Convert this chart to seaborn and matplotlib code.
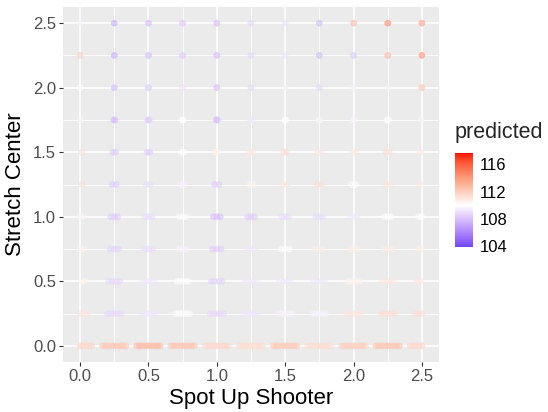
import numpy as np
import pandas as pd
import matplotlib
matplotlib.use("Agg")
import matplotlib.pyplot as plt
import seaborn as sns
from matplotlib.colors import ListedColormap, Normalize
from matplotlib.cm import ScalarMappable

# ---------------- data ----------------
x_levels = [0.0, 0.25, 0.5, 0.75, 1.0, 1.25, 1.5, 1.75, 2.0, 2.25, 2.5]
y_levels = [0.0, 0.25, 0.5, 0.75, 1.0, 1.25, 1.5, 1.75, 2.0, 2.25, 2.5]

# predicted value per cell: rows = y_levels (bottom -> top), cols = x_levels
predicted = [
    [111.6, 112.3, 112.8, 112.4, 111.6, 111.4, 112.2, 111.4, 112.0, 112.4, 111.6],
    [111.0, 108.7, 109.2, 110.0, 108.7, 109.2, 109.6, 109.6, 111.0, 111.3, 111.3],
    [110.5, 108.7, 109.2, 110.0, 108.5, 109.2, 109.2, 109.2, 110.5, 111.0, 111.0],
    [110.5, 108.5, 108.8, 109.6, 108.2, 109.2, 110.0, 110.8, 110.8, 110.8, 110.8],
    [109.6, 108.2, 108.8, 110.0, 107.8, 108.2, 108.8, 108.8, 109.2, 110.0, 110.0],
    [111.3, 108.3, 108.8, 109.6, 108.3, 110.5, 111.0, 111.3, 110.0, 111.0, 111.0],
    [111.3, 108.3, 108.3, 110.0, 110.5, 111.0, 111.3, 111.0, 111.0, 111.3, 111.0],
    [110.5, 107.8, 108.3, 110.0, 107.8, 109.2, 110.0, 109.6, 109.6, 110.0, 109.6],
    [110.0, 107.5, 108.0, 109.0, 107.5, 108.5, 109.5, 108.5, 109.5, 109.5, 112.5],
    [112.0, 107.0, 107.5, 108.0, 107.5, 108.5, 109.0, 107.5, 108.0, 113.0, 114.5],
    [109.5, 107.0, 107.5, 108.0, 107.5, 108.5, 109.0, 107.5, 113.0, 115.0, 114.0],
]

# horizontal spread of the observations within each row (Spot Up Shooter offsets)
row_offsets = [
    [-0.085, -0.065, -0.045, -0.02, 0.0, 0.02, 0.045, 0.065, 0.085],
    [-0.05, -0.025, 0.0, 0.025, 0.05],
    [-0.04, -0.015, 0.015, 0.04],
    [-0.03, 0.0, 0.03],
    [-0.025, 0.0, 0.025],
    [-0.015, 0.015],
    [-0.01, 0.01],
    [-0.005, 0.005],
    [0.0],
    [0.0],
    [0.0],
]

legend_ticks = [104, 108, 112, 116]
value_min, value_max, value_mid = 103.8, 117.7, 110.0

records = []
for i, yv in enumerate(y_levels):
    for j, xv in enumerate(x_levels):
        for off in row_offsets[i]:
            xx = xv + off
            if xx < 0.0 or xx > 2.5:
                continue
            records.append((xx, yv, predicted[i][j]))
df = pd.DataFrame(records, columns=["Spot Up Shooter", "Stretch Center", "predicted"])

# ---------------- colour scale (ggplot gradient2, Lab interpolation) ----------------
M = np.array([[0.4124, 0.3576, 0.1805], [0.2126, 0.7152, 0.0722], [0.0193, 0.1192, 0.9505]])
WP = np.array([0.95047, 1.0, 1.08883])


def to_lab(rgb):
    c = np.asarray(rgb, float)
    lin = np.where(c <= 0.04045, c / 12.92, ((c + 0.055) / 1.055) ** 2.4)
    xyz = (M @ lin) / WP
    f = np.where(xyz > 0.008856, np.cbrt(xyz), 7.787 * xyz + 16 / 116)
    return np.array([116 * f[1] - 16, 500 * (f[0] - f[1]), 200 * (f[1] - f[2])])


def from_lab(lab):
    L, a, b = lab
    fy = (L + 16) / 116
    f = np.array([fy + a / 500, fy, fy - b / 200])
    xyz = np.where(f ** 3 > 0.008856, f ** 3, (f - 16 / 116) / 7.787) * WP
    lin = np.clip(np.linalg.inv(M) @ xyz, 0, 1)
    c = np.where(lin <= 0.0031308, 12.92 * lin, 1.055 * lin ** (1 / 2.4) - 0.055)
    return np.clip(c, 0, 1)


lab_low, lab_mid, lab_high = to_lab([0, 0, 1]), to_lab([1, 1, 1]), to_lab([1, 0, 0])
span = max(value_max - value_mid, value_mid - value_min)
cols = []
for v in np.linspace(value_min, value_max, 256):
    t = (v - value_mid) / span
    if t < 0:
        lab = lab_mid + (lab_low - lab_mid) * (-t)
    else:
        lab = lab_mid + (lab_high - lab_mid) * t
    cols.append(from_lab(lab))
cmap = ListedColormap(cols)
norm = Normalize(value_min, value_max)

# ---------------- plot ----------------
sns.set_theme(style="darkgrid")
plt.rcParams["font.family"] = ["Liberation Sans", "DejaVu Sans"]

fig = plt.figure(figsize=(5.48, 4.12), dpi=100)
ax = fig.add_axes([63 / 548, 1 - 362 / 412, (439 - 63) / 548, (362 - 7) / 412])
ax.set_facecolor("#EBEBEB")

sns.scatterplot(data=df, x="Spot Up Shooter", y="Stretch Center", hue="predicted",
                palette=cmap, hue_norm=norm, legend=False, s=24, alpha=0.55,
                linewidth=0, ax=ax, zorder=3)

ax.set_xlim(-0.125, 2.625)
ax.set_ylim(-0.125, 2.625)
major = [0.0, 0.5, 1.0, 1.5, 2.0, 2.5]
minor = [0.25, 0.75, 1.25, 1.75, 2.25]
ax.set_xticks(major)
ax.set_yticks(major)
ax.set_xticks(minor, minor=True)
ax.set_yticks(minor, minor=True)
ax.set_xticklabels([f"{v:.1f}" for v in major])
ax.set_yticklabels([f"{v:.1f}" for v in major])
ax.grid(which="major", color="white", linewidth=1.1, zorder=1)
ax.grid(which="minor", color="white", linewidth=0.55, zorder=1)
ax.set_axisbelow(True)
for sp in ax.spines.values():
    sp.set_visible(False)
ax.tick_params(which="major", length=3, width=0.8, color="#333333",
               labelcolor="#4D4D4D", labelsize=12, pad=2,
               bottom=True, left=True)
ax.tick_params(which="minor", length=0)
ax.set_xlabel("Spot Up Shooter", fontsize=16, color="black", labelpad=3)
ax.set_ylabel("Stretch Center", fontsize=16, color="black", labelpad=5)

# colourbar legend
cax = fig.add_axes([455 / 548, 1 - 247 / 412, 18 / 548, 94 / 412])
sm = ScalarMappable(norm=norm, cmap=cmap)
cb = fig.colorbar(sm, cax=cax, ticks=legend_ticks)
cb.outline.set_visible(False)
cax.yaxis.set_ticks_position("both")
cax.tick_params(direction="in", color="white", length=3.5, width=0.9,
                left=True, right=True, labelleft=False, labelright=True,
                labelsize=12, labelcolor="black", pad=5)
fig.text(455 / 548, 1 - 132 / 412, "predicted", fontsize=15.5, ha="left", va="center")

fig.savefig("out.png", dpi=100, facecolor="white")
